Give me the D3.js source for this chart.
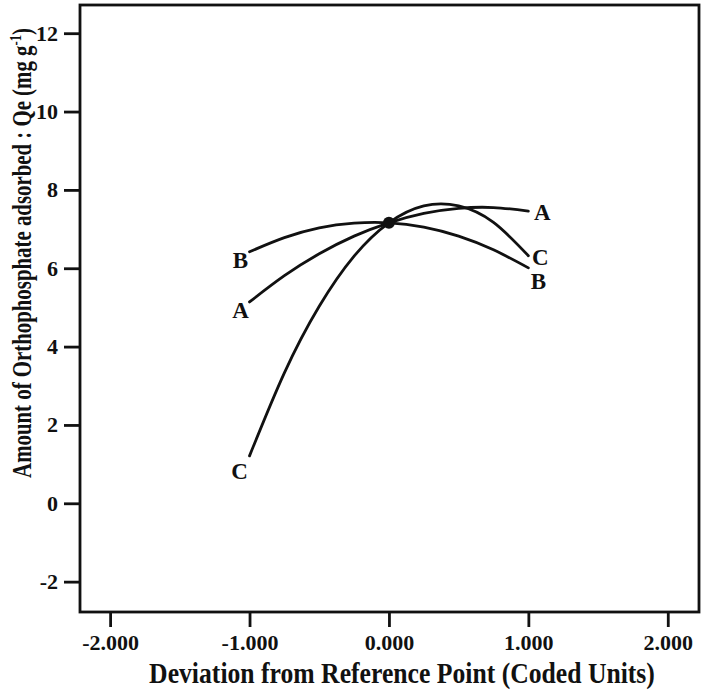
<!DOCTYPE html>
<html>
<head>
<meta charset="utf-8">
<script src="https://cdn.jsdelivr.net/npm/d3@7/dist/d3.min.js"></script>
<style>
  html, body { margin: 0; padding: 0; background: #fff; }
  svg { display: block; }
  text { font-family: "Liberation Serif", "DejaVu Serif", serif; font-weight: bold; fill: #111; }
</style>
</head>
<body>
<svg id="chart" width="704" height="694"></svg>
<script>
// ---- data ----
const deviation = [-1, -0.75, -0.5, -0.25, 0, 0.25, 0.5, 0.75, 1];
const factorA = [5.14, 5.81, 6.37, 6.82, 7.16, 7.40, 7.53, 7.55, 7.46];
const factorB = [6.42, 6.78, 7.03, 7.15, 7.16, 7.05, 6.82, 6.47, 6.01];
const factorC = [1.21, 3.33, 5.03, 6.31, 7.16, 7.59, 7.59, 7.17, 6.32];
const seriesNames = ["A", "B", "C"];
const referencePoint = { x: 0, y: 7.16 };
const xTicks = [-2, -1, 0, 1, 2];
const xTickLabels = ["-2.000", "-1.000", "0.000", "1.000", "2.000"];
const yTicks = [-2, 0, 2, 4, 6, 8, 10, 12];
const yTickLabels = ["-2", "0", "2", "4", "6", "8", "10", "12"];
const xTitle = "Deviation from Reference Point (Coded Units)";
const yTitle = "Amount of Orthophosphate adsorbed : Qe (mg g";
const yTitleSup = "-1";

(function () {
// ---- layout ----
const svg = d3.select("#chart");
const pL = 80, pR = 699, pT = 5, pB = 612;
const x = d3.scaleLinear().domain([-2.216, 2.224]).range([pL, pR]);
const y = d3.scaleLinear().domain([-2.775, 12.72]).range([pB, pT]);

// frame
svg.append("rect")
  .attr("x", pL).attr("y", pT)
  .attr("width", pR - pL).attr("height", pB - pT)
  .attr("fill", "none").attr("stroke", "#111").attr("stroke-width", 2.8);

// axes
const xAxis = d3.axisBottom(x).tickValues(xTicks)
  .tickFormat((d, i) => xTickLabels[i]).tickSize(15).tickPadding(7);
const gx = svg.append("g").attr("transform", `translate(0,${pB})`).call(xAxis);
gx.select(".domain").remove();
gx.selectAll(".tick line").attr("stroke", "#111").attr("stroke-width", 2.8);
gx.selectAll(".tick text").attr("font-size", 22).style("font-size", "22px").attr("fill", "#111")
  .style("font-family", '"Liberation Serif", serif').style("font-weight", "bold");

const yAxis = d3.axisLeft(y).tickValues(yTicks).tickFormat((d, i) => yTickLabels[i])
  .tickSize(16).tickPadding(6);
const gy = svg.append("g").attr("transform", `translate(${pL},0)`).call(yAxis);
gy.select(".domain").remove();
gy.selectAll(".tick line").attr("stroke", "#111").attr("stroke-width", 2.8);
gy.selectAll(".tick text").attr("font-size", 22).style("font-size", "22px").attr("fill", "#111")
  .style("font-family", '"Liberation Serif", serif').style("font-weight", "bold");

// curves
const seriesVals = { A: factorA, B: factorB, C: factorC };
const line = d3.line().x(d => x(d[0])).y(d => y(d[1])).curve(d3.curveNatural);
seriesNames.forEach(name => {
  const pts = deviation.map((dx, i) => [dx, seriesVals[name][i]]);
  svg.append("path").datum(pts)
    .attr("d", line)
    .attr("fill", "none").attr("stroke", "#111").attr("stroke-width", 2.8)
    .attr("stroke-linecap", "round");
});

// end labels (pixel offsets relative to curve ends)
const labelOffsets = {
  A: { l: [-9, 16], r: [14, 9] },
  B: { l: [-9, 16], r: [10, 21] },
  C: { l: [-10, 23], r: [12, 9] }
};
seriesNames.forEach(name => {
  const vals = seriesVals[name];
  const o = labelOffsets[name];
  svg.append("text")
    .attr("x", x(deviation[0]) + o.l[0]).attr("y", y(vals[0]) + o.l[1])
    .attr("text-anchor", "middle").style("font-size", "23px").text(name);
  svg.append("text")
    .attr("x", x(deviation[deviation.length - 1]) + o.r[0])
    .attr("y", y(vals[vals.length - 1]) + o.r[1])
    .attr("text-anchor", "middle").style("font-size", "23px").text(name);
});

// reference point
svg.append("circle")
  .attr("cx", x(referencePoint.x)).attr("cy", y(referencePoint.y))
  .attr("r", 6).attr("fill", "#111");

// axis titles (condensed by a horizontal scale to fit the measured span)
const xt = svg.append("text")
  .attr("text-anchor", "middle")
  .style("font-size", "29px").text(xTitle);
const xLen = xt.node().getComputedTextLength();
xt.attr("transform", `translate(402,683) scale(${506 / xLen},1)`);

const yt = svg.append("text")
  .attr("text-anchor", "middle")
  .style("font-size", "28px");
yt.append("tspan").text(yTitle);
yt.append("tspan").attr("dy", -10).style("font-size", "17px").text(yTitleSup);
yt.append("tspan").attr("dy", 10).text(")");
const yLen = yt.node().getComputedTextLength();
yt.attr("transform", `translate(31,253) rotate(-90) scale(${450 / yLen},1)`);
})();
</script>
</body>
</html>
